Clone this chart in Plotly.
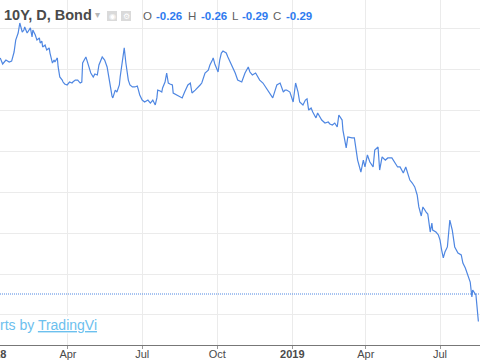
import pandas as pd
import plotly.graph_objects as go

# ---- data ----
# day offsets from 2018-01-01 and the 10Y yield (%)
day_offsets = [7, 10, 14, 18, 21, 24, 26, 29, 31, 34, 36, 37, 40, 42, 44, 46, 47, 50, 52, 55,
               56, 58, 59, 62, 64, 67, 68, 71, 73, 74, 77, 78, 80, 83, 84, 86, 89, 92, 95, 96,
               99, 102, 105, 107, 108, 112, 115, 118, 121, 123, 126, 128, 132, 135, 138, 140, 142, 144, 145, 148,
               150, 153, 154, 156, 159, 161, 164, 166, 169, 172, 175, 176, 178, 181, 184, 188, 191, 194, 197, 199,
               200, 203, 205, 206, 209, 211, 213, 215, 218, 219, 221, 224, 227, 230, 233, 237, 240, 242, 246, 249,
               252, 254, 258, 262, 264, 267, 268, 270, 273, 274, 276, 278, 280, 284, 286, 289, 291, 295, 298, 301,
               303, 307, 311, 313, 316, 320, 323, 325, 329, 332, 334, 338, 341, 344, 346, 350, 354, 356, 358, 362,
               366, 369, 372, 374, 378, 381, 383, 385, 388, 390, 394, 396, 399, 401, 405, 409, 411, 414, 417, 420,
               422, 426, 427, 431, 433, 436, 438, 441, 444, 445, 449, 452, 454, 457, 460, 464, 466, 470, 472, 475,
               479, 482, 487, 491, 494, 497, 501, 504, 507, 509, 512, 515, 518, 520, 523, 525, 529, 531, 534, 536,
               537, 541, 544, 546, 548, 550, 552, 555, 558, 561, 564, 568, 572, 574, 577, 579, 583, 585, 586, 590,
               593]
yields = [1.318, 1.281, 1.305, 1.293, 1.299, 1.354, 1.427, 1.470, 1.531, 1.476, 1.488, 1.507, 1.470, 1.488, 1.501, 1.446, 1.488, 1.458, 1.427, 1.440,
          1.409, 1.421, 1.385, 1.397, 1.366, 1.379, 1.348, 1.287, 1.305, 1.293, 1.318, 1.263, 1.202, 1.183, 1.171, 1.159, 1.153, 1.171, 1.165, 1.171,
          1.183, 1.183, 1.165, 1.171, 1.287, 1.324, 1.275, 1.226, 1.202, 1.220, 1.214, 1.275, 1.324, 1.305, 1.263, 1.196, 1.141, 1.086, 1.074, 1.122,
          1.110, 1.153, 1.202, 1.275, 1.379, 1.287, 1.183, 1.153, 1.141, 1.141, 1.147, 1.129, 1.092, 1.061, 1.049, 1.061, 1.043, 1.061, 1.031, 1.074,
          1.122, 1.116, 1.110, 1.135, 1.171, 1.226, 1.165, 1.159, 1.153, 1.104, 1.098, 1.092, 1.080, 1.074, 1.110, 1.153, 1.165, 1.104, 1.122, 1.141,
          1.153, 1.165, 1.226, 1.244, 1.275, 1.305, 1.318, 1.281, 1.244, 1.232, 1.305, 1.348, 1.360, 1.348, 1.324, 1.293, 1.263, 1.226, 1.183, 1.177,
          1.171, 1.226, 1.263, 1.232, 1.214, 1.226, 1.202, 1.183, 1.165, 1.141, 1.122, 1.092, 1.074, 1.122, 1.153, 1.165, 1.110, 1.122, 1.122, 1.110,
          1.049, 1.165, 1.110, 1.049, 1.031, 1.061, 1.068, 1.000, 1.013, 0.988, 0.952, 0.982, 0.958, 0.939, 0.921, 0.927, 0.915, 0.909, 0.921, 0.897,
          0.970, 0.939, 0.878, 0.769, 0.836, 0.830, 0.830, 0.830, 0.708, 0.695, 0.622, 0.695, 0.653, 0.726, 0.683, 0.653, 0.756, 0.775, 0.634, 0.714,
          0.695, 0.708, 0.708, 0.677, 0.653, 0.653, 0.616, 0.653, 0.604, 0.573, 0.555, 0.531, 0.482, 0.409, 0.354, 0.409, 0.378, 0.366, 0.256, 0.311,
          0.268, 0.256, 0.238, 0.207, 0.146, 0.098, 0.134, 0.165, 0.329, 0.268, 0.165, 0.128, 0.116, 0.067, 0.037, 0.006, -0.049, -0.140, -0.098, -0.128,
          -0.290]
price_line = -0.122

tick_dates = ["2018-04-01", "2018-07-01", "2018-10-01", "2019-01-01", "2019-04-01", "2019-07-01"]
tick_text = ["Apr", "Jul", "Oct", "<b>2019</b>", "Apr", "Jul"]

legend_title = "10Y, D, Bond"
ohlc_labels = ["O", "H", "L", "C"]
ohlc_values = ["-0.26", "-0.26", "-0.29", "-0.29"]

# ---- layout helpers (pixel positions -> paper coords) ----
W, H = 480, 360
PLOT_H = 345
def px(x):
    return x / W
def py(y):
    return 1 - y / PLOT_H

dates = pd.Timestamp("2018-01-01") + pd.to_timedelta(day_offsets, unit="D")

LINE = "#4f87e2"
BLUE = "#2f7bef"
FONT = "Liberation Sans"

fig = go.Figure()
fig.add_trace(go.Scatter(x=dates, y=yields, mode="lines",
                         line=dict(color=LINE, width=1.2), hoverinfo="skip"))

fig.add_shape(type="line", xref="paper", x0=0, x1=1, yref="y", y0=price_line, y1=price_line,
              line=dict(color=LINE, width=1, dash="1px,1px"))

annotations = []
annotations.append(dict(text="<b>" + legend_title + "</b>", x=px(2), y=py(15), xref="paper", yref="paper",
                        xanchor="left", yanchor="middle", showarrow=False,
                        font=dict(family=FONT, size=14.5, color="#4a4a4a")))
annotations.append(dict(text="▾", x=px(97), y=py(15), xref="paper", yref="paper",
                        xanchor="center", yanchor="middle", showarrow=False,
                        font=dict(family="DejaVu Sans", size=10, color="#b5b5b5")))
label_x = [141, 186, 230, 271]
value_x = [154, 199, 240, 284]
for lab, val, lx, vx in zip(ohlc_labels, ohlc_values, label_x, value_x):
    annotations.append(dict(text=lab, x=px(lx), y=py(15.5), xref="paper", yref="paper",
                            xanchor="left", yanchor="middle", showarrow=False,
                            font=dict(family=FONT, size=11.5, color="#5f5f5f")))
    annotations.append(dict(text="<b>" + val + "</b>", x=px(vx), y=py(15.5), xref="paper", yref="paper",
                            xanchor="left", yanchor="middle", showarrow=False,
                            font=dict(family=FONT, size=11.5, color=BLUE)))
# icons
for ix, glyph in [(112, "◉"), (126, "⚙")]:
    fig.add_shape(type="rect", xref="paper", yref="paper", x0=px(ix - 5), x1=px(ix + 5),
                  y0=py(21), y1=py(11), fillcolor="#dadada", line=dict(width=0), layer="above")
    annotations.append(dict(text=glyph, x=px(ix), y=py(16), xref="paper", yref="paper",
                            xanchor="center", yanchor="middle", showarrow=False,
                            font=dict(family="DejaVu Sans", size=8, color="#ffffff")))
# partially visible year label at the left edge
annotations.append(dict(text="<b>2018</b>", x=px(-6), y=py(354), xref="paper", yref="paper",
                        xanchor="center", yanchor="middle", showarrow=False,
                        font=dict(family=FONT, size=11, color="#4a4a4a")))
# watermark
annotations.append(dict(text="rts by <u>TradingVi</u>", x=px(-1), y=py(325), xref="paper", yref="paper",
                        xanchor="left", yanchor="middle", showarrow=False, bgcolor="#ffffff", borderpad=0,
                        font=dict(family=FONT, size=14, color="#6cc0ee")))

fig.update_layout(
    width=W, height=H,
    margin=dict(l=0, r=0, t=0, b=H - PLOT_H),
    paper_bgcolor="#ffffff", plot_bgcolor="#ffffff",
    showlegend=False,
    annotations=annotations,
    xaxis=dict(range=["2018-01-07 17:46", "2019-08-18 23:31"], tickvals=tick_dates, ticktext=tick_text,
               showgrid=True, gridcolor="#ebebeb", gridwidth=1, zeroline=False,
               ticks="outside", ticklen=3, tickcolor="#9a9a9a", showline=True, linecolor="#777777",
               linewidth=1, tickfont=dict(family=FONT, size=11, color="#4a4a4a"), automargin=False,
               ticklabelstandoff=-4, fixedrange=True),
    yaxis=dict(range=[-0.4331, 1.6714], tick0=0, dtick=0.25, showgrid=True, gridcolor="#ebebeb",
               gridwidth=1, zeroline=False, showticklabels=False, ticks="", automargin=False,
               fixedrange=True),
)

fig.write_html("out.html", config={"displayModeBar": False},
               post_script="document.body.style.margin='0';")
